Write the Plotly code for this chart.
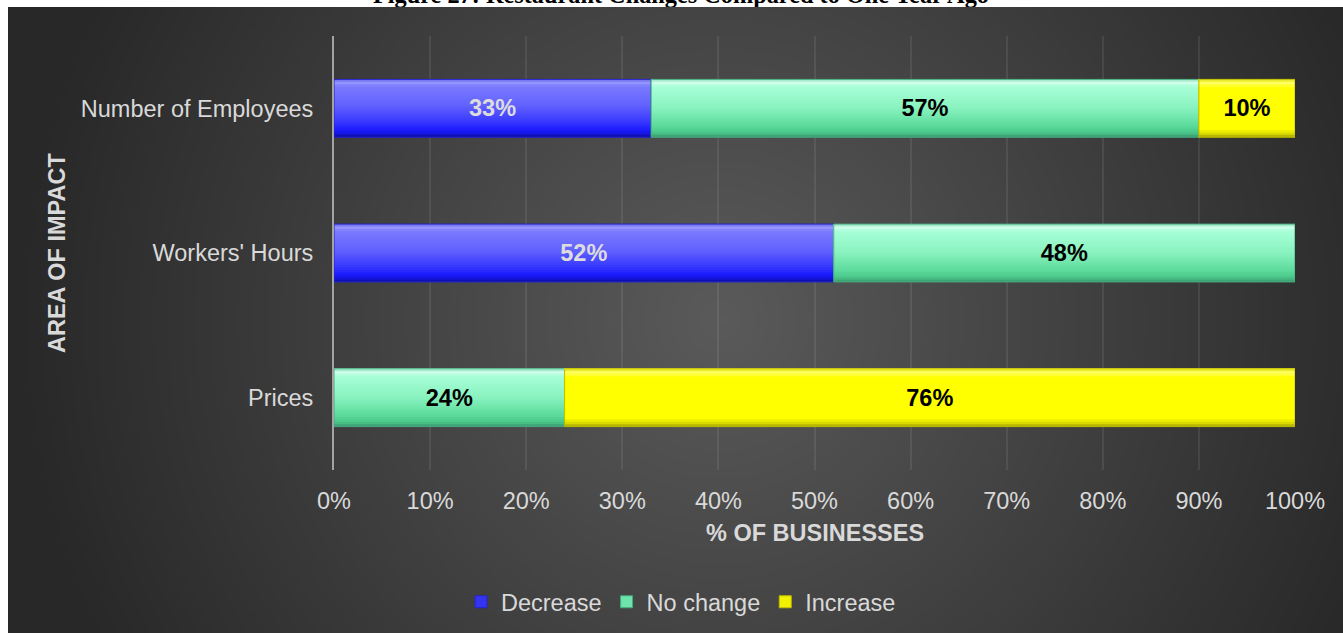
import base64
import struct
import zlib

import numpy as np
import plotly.graph_objects as go

# ---------------------------------------------------------------- data
categories = ["Prices", "Workers' Hours", "Number of Employees"]   # bottom -> top
decrease = [0, 52, 33]
no_change = [24, 48, 57]
increase = [76, 0, 10]
series_names = ["Decrease", "No change", "Increase"]
x_tick_values = [0, 10, 20, 30, 40, 50, 60, 70, 80, 90, 100]
x_tick_labels = ["0%", "10%", "20%", "30%", "40%", "50%", "60%", "70%", "80%", "90%", "100%"]

title_text = "Figure 27: Restaurant Changes Compared to One Year Ago"
x_title = "% OF BUSINESSES"
y_title = "AREA OF IMPACT"

# ---------------------------------------------------------------- styling
W, H = 1343, 633
FONT = "Liberation Sans, Arial, sans-serif"
FS = 23.5
TXT = "#d9d9d9"
BAR_W = 0.40
N_SLICES = 24

# bevel-like vertical colour ramps (position measured from the top edge)
ramps = {
    "Decrease": [(0.00, "#5050e0"), (0.04, "#a0a0ff"), (0.12, "#7a7aff"), (0.45, "#6262ff"),
                 (0.72, "#3a3aff"), (0.88, "#1a1aff"), (0.95, "#1414d8"), (1.00, "#0e0e96")],
    "No change": [(0.00, "#6fd6a6"), (0.04, "#dcfff2"), (0.12, "#a8ffd8"), (0.50, "#88f2be"),
                  (0.80, "#5cdb9c"), (0.92, "#4ac88a"), (1.00, "#3a9870")],
    "Increase": [(0.00, "#e0e000"), (0.05, "#ffff70"), (0.15, "#ffff00"), (0.86, "#ffff00"),
                 (0.94, "#dada00"), (1.00, "#a4a400")],
}
edge_colors = {"Decrease": "#2424c8", "No change": "#45aa7e", "Increase": "#bcbc00"}
label_colors = {"Decrease": "#dcdcdc", "No change": "#000000", "Increase": "#000000"}
legend_colors = {"Decrease": "#3434f0", "No change": "#6ee4ac", "Increase": "#f2f200"}


def hex_rgb(h):
    h = h.lstrip("#")
    return np.array([int(h[i:i + 2], 16) for i in (0, 2, 4)], dtype=float)


def ramp_color(stops, p):
    for (p0, c0), (p1, c1) in zip(stops[:-1], stops[1:]):
        if p <= p1:
            t = 0.0 if p1 == p0 else (p - p0) / (p1 - p0)
            c = hex_rgb(c0) * (1 - t) + hex_rgb(c1) * t
            return "rgb(%d,%d,%d)" % tuple(np.round(c).astype(int))
    c = hex_rgb(stops[-1][1])
    return "rgb(%d,%d,%d)" % tuple(c.astype(int))


# ---------------------------------------------------------------- background panel (radial gradient PNG)
def png_uri(rgb):
    h, w, _ = rgb.shape
    raw = b"".join(b"\x00" + rgb[r].tobytes() for r in range(h))

    def chunk(tag, data):
        c = struct.pack(">I", len(data)) + tag + data
        return c + struct.pack(">I", zlib.crc32(tag + data) & 0xFFFFFFFF)

    png = (b"\x89PNG\r\n\x1a\n"
           + chunk(b"IHDR", struct.pack(">IIBBBBB", w, h, 8, 2, 0, 0, 0))
           + chunk(b"IDAT", zlib.compress(raw, 9))
           + chunk(b"IEND", b""))
    return "data:image/png;base64," + base64.b64encode(png).decode()


PX0, PY0 = 8, 7                       # panel top-left corner in figure pixels
pw, ph = W - PX0, H - PY0
scale = 3
gw, gh = pw // scale, ph // scale
gx = PX0 + (np.arange(gw) + 0.5) * pw / gw
gy = PY0 + (np.arange(gh) + 0.5) * ph / gh
XX, YY = np.meshgrid(gx, gy)
dist = np.clip(np.hypot(XX - 720, YY - 320) / 700.0, 0, 1)
inner, outer = 90.0, 40.0
val = inner + (outer - inner) * dist
bg = np.repeat(val[:, :, None], 3, axis=2).round().astype(np.uint8)
bg_uri = png_uri(bg)

# ---------------------------------------------------------------- traces
fig = go.Figure()

series_values = [decrease, no_change, increase]
bases = np.zeros(len(categories))
for name, vals in zip(series_names, series_values):
    vals = np.array(vals, dtype=float)
    x_vals = [v if v > 0 else None for v in vals]
    base_vals = bases.copy()
    stops = ramps[name]
    step = BAR_W / N_SLICES
    # each slice runs from its own lower edge to the top of the bar; drawing
    # bottom-up leaves one visible colour band per slice without seams
    for k in range(N_SLICES):
        off = -BAR_W / 2 + k * step
        p_from_top = 1 - (k + 0.5) / N_SLICES
        fig.add_trace(go.Bar(
            orientation="h", y=categories, x=x_vals, base=base_vals,
            width=BAR_W / 2 - off, offset=off,
            marker=dict(color=ramp_color(stops, p_from_top), line=dict(width=0)),
            name=name, legendgroup=name, showlegend=False,
            hoverinfo="skip",
        ))
    # outline + value label on top of the slices
    fig.add_trace(go.Bar(
        orientation="h", y=categories, x=x_vals, base=base_vals,
        width=BAR_W, offset=-BAR_W / 2,
        marker=dict(color="rgba(0,0,0,0)", line=dict(color=edge_colors[name], width=1)),
        text=["%d%%" % v if v > 0 else "" for v in vals],
        textposition="inside", insidetextanchor="middle", textangle=0,
        textfont=dict(family=FONT, size=FS, color=label_colors[name], weight="bold"),
        name=name, legendgroup=name, showlegend=False, hoverinfo="skip",
    ))
    # legend swatch
    fig.add_trace(go.Bar(
        orientation="h", y=[None], x=[None],
        marker=dict(color=legend_colors[name], line=dict(color=edge_colors[name], width=1)),
        name=name, legendgroup=name, showlegend=True, hoverinfo="skip",
    ))
    bases = bases + vals

# title text, clipped by a thin strip subplot above the dark panel
fig.add_trace(go.Scatter(
    x=[681 / W], y=[-2.9], mode="text", text=[title_text],
    textposition="middle center",
    textfont=dict(family="Liberation Serif, Times New Roman, serif", size=24.3,
                  color="#000000", weight="bold"),
    xaxis="x2", yaxis="y2", showlegend=False, hoverinfo="skip", cliponaxis=True,
))

# ---------------------------------------------------------------- layout
x0, x1 = 334 / W, 1295 / W
y_top, y_bot = 36, 470

fig.update_layout(
    width=W, height=H,
    margin=dict(l=0, r=0, t=0, b=0, pad=0, autoexpand=False),
    paper_bgcolor="#ffffff",
    plot_bgcolor="rgba(0,0,0,0)",
    barmode="overlay",
    font=dict(family=FONT, size=FS, color=TXT),
    xaxis=dict(
        domain=[x0, x1], range=[0, 100], automargin=False,
        tickmode="array", tickvals=x_tick_values, ticktext=x_tick_labels,
        showgrid=True, gridcolor="rgba(255,255,255,0.08)", gridwidth=2,
        zeroline=False, showline=False, ticks="",
        ticklabelstandoff=14,
        tickfont=dict(family=FONT, size=FS, color=TXT),
        fixedrange=True,
    ),
    yaxis=dict(
        domain=[(H - y_bot) / H, (H - y_top) / H], automargin=False,
        type="category", categoryorder="array", categoryarray=categories,
        range=[-0.5, len(categories) - 0.5],
        showgrid=False, zeroline=False,
        showline=True, linecolor="#a3a3a3", linewidth=2,
        ticks="", ticklabelstandoff=14,
        tickfont=dict(family=FONT, size=FS, color=TXT),
        fixedrange=True,
    ),
    xaxis2=dict(domain=[0, 1], range=[0, 1], visible=False, anchor="y2",
                automargin=False, fixedrange=True),
    yaxis2=dict(domain=[1 - PY0 / H, 1], range=[PY0, 0], visible=False, anchor="x2",
                automargin=False, fixedrange=True),
    legend=dict(
        orientation="h", x=681 / W, xanchor="center", y=(H - 602) / H, yanchor="middle",
        font=dict(family=FONT, size=FS, color=TXT),
        bgcolor="rgba(0,0,0,0)", traceorder="normal",
    ),
    images=[dict(
        source=bg_uri, xref="paper", yref="paper",
        x=PX0 / W, y=1 - PY0 / H, sizex=pw / W, sizey=ph / H,
        xanchor="left", yanchor="top", sizing="stretch", layer="below",
    )],
    annotations=[
        dict(text=x_title, xref="paper", yref="paper",
             x=(x0 + x1) / 2, y=(H - 533) / H, xanchor="center", yanchor="middle",
             showarrow=False,
             font=dict(family=FONT, size=FS, color=TXT, weight="bold")),
        dict(text=y_title, xref="paper", yref="paper", textangle=-90,
             x=57 / W, y=(H - 253) / H, xanchor="center", yanchor="middle",
             showarrow=False,
             font=dict(family=FONT, size=FS, color=TXT, weight="bold")),
    ],
    showlegend=True,
)

fig.write_html("out.html")
